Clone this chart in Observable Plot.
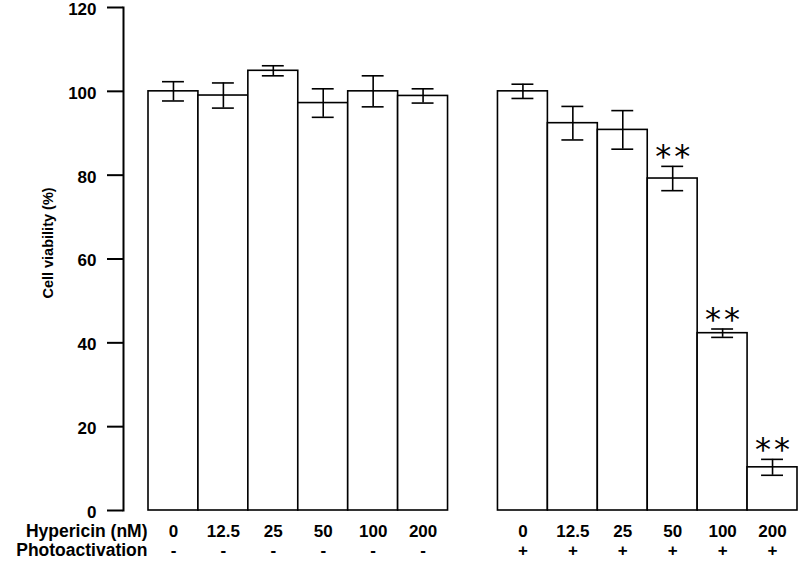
<!DOCTYPE html>
<html>
<head>
<meta charset="utf-8">
<script src="https://cdn.jsdelivr.net/npm/d3@7"></script>
<script src="https://cdn.jsdelivr.net/npm/@observablehq/plot@0.6"></script>
<style>
  html, body { margin: 0; padding: 0; background: white; }
  #chart svg { display: block; }
</style>
</head>
<body>
<div id="chart"></div>
<script>
// Data
const concentrations = ["0", "12.5", "25", "50", "100", "200"];
const darkMeans  = [100, 99.0, 104.9, 97.2, 100, 98.9];
const darkErr    = [2.3, 3.0, 1.2, 3.4, 3.7, 1.7];
const lightMeans = [100, 92.4, 90.8, 79.2, 42.3, 10.3];
const lightErr   = [1.7, 4.0, 4.6, 2.9, 1.0, 1.9];
const significance = ["", "", "", "**", "**", "**"];
const photoSigns = ["-", "+"];
const yTicks = [0, 20, 40, 60, 80, 100, 120];
const rowLabels = ["Hypericin (nM)", "Photoactivation"];
const yLabel = "Cell viability (%)";

const dark = concentrations.map((c, i) => ({key: "D" + c, conc: c, mean: darkMeans[i], err: darkErr[i], photo: photoSigns[0], sig: ""}));
const light = concentrations.map((c, i) => ({key: "L" + c, conc: c, mean: lightMeans[i], err: lightErr[i], photo: photoSigns[1], sig: significance[i]}));
const rows = [...dark, ...light];
const xDomain = [...dark.map(d => d.key), "gap", ...light.map(d => d.key)];

const lo = d => d.mean - d.err;
const hi = d => d.mean + d.err;
const font = "'Liberation Sans', Arial, Helvetica, sans-serif";

const chart = Plot.plot({
  width: 798,
  height: 564,
  marginLeft: 123,
  marginRight: 1,
  marginTop: 7,
  marginBottom: 54,
  style: {fontFamily: font, background: "white", color: "black"},
  x: {type: "band", domain: xDomain, range: [148, 797], padding: 0, round: false, axis: null},
  y: {domain: [0, 120], axis: null},
  marks: [
    Plot.frame({anchor: "left", stroke: "black", strokeWidth: 2}),
    Plot.axisY({ticks: yTicks, tickSize: 16, tickFormat: () => "", strokeWidth: 2, label: null, stroke: "black"}),
    Plot.axisY({ticks: yTicks, tickSize: 0, tickPadding: 27, fontSize: 17, fontWeight: "bold", label: null, fill: "black", dy: 2}),
    Plot.barY(rows, {x: "key", y: "mean", fill: "white", stroke: "black", strokeWidth: 1.6}),
    Plot.ruleX(rows, {x: "key", y1: lo, y2: hi, stroke: "black", strokeWidth: 1.6}),
    Plot.tickY(rows, {x: "key", y: lo, insetLeft: 14, insetRight: 14, stroke: "black", strokeWidth: 1.6}),
    Plot.tickY(rows, {x: "key", y: hi, insetLeft: 14, insetRight: 14, stroke: "black", strokeWidth: 1.6}),
    Plot.text(rows.filter(d => d.sig), {x: "key", y: hi, text: "sig", lineAnchor: "bottom", dy: 1, dx: 1.5, fontSize: 32, fontFamily: "'DejaVu Sans', sans-serif", fill: "black", className: "sigmark"}),
    Plot.text(rows, {x: "key", text: "conc", frameAnchor: "bottom", dy: 26.5, fontSize: 17, fontWeight: "bold", fill: "black"}),
    Plot.text(rows, {x: "key", text: "photo", frameAnchor: "bottom", dy: 45, fontSize: 17, fontWeight: "bold", fill: "black"}),
    Plot.text([rowLabels[0]], {text: d => d, frameAnchor: "bottom-left", dx: 24, dy: 26.5, textAnchor: "end", fontSize: 17.5, fontWeight: "bold", fill: "black"}),
    Plot.text([rowLabels[1]], {text: d => d, frameAnchor: "bottom-left", dx: 24, dy: 45, textAnchor: "end", fontSize: 17.5, fontWeight: "bold", fill: "black"}),
    Plot.text([yLabel], {text: d => d, frameAnchor: "left", textAnchor: "middle", dx: -75, dy: -16, rotate: -90, fontSize: 14.5, fontWeight: "bold", fill: "black", className: "ylab"})
  ]
});
d3.select(chart).selectAll(".sigmark text").style("letter-spacing", "3px");
document.getElementById("chart").appendChild(chart);
</script>
</body>
</html>
